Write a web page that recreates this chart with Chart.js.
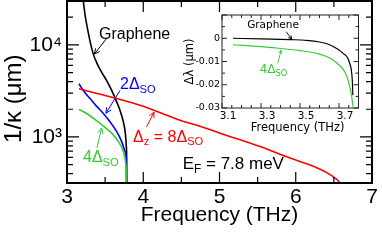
<!DOCTYPE html>
<html>
<head>
<meta charset="utf-8">
<script src="https://cdn.jsdelivr.net/npm/chart.js@4"></script>
<style>
    body { margin: 0; background: #fff; }
    #wrap { position: relative; width: 382px; height: 240px; }
    #mainChart { position: absolute; left: 0; top: 0; }
    #insetChart { position: absolute; left: 170px; top: 0; }
</style>
</head>
<body>
<div id="wrap">
    <canvas id="mainChart" width="382" height="240"></canvas>
    <canvas id="insetChart" width="200" height="140"></canvas>
</div>
<script>
// Main panel: 1/kappa (um) against frequency (THz)
const grapheneFreq = [3.19, 3.214, 3.236, 3.267, 3.302, 3.345, 3.398, 3.455, 3.52, 3.586, 3.643, 3.695, 3.739, 3.765, 3.778, 3.7825, 3.784];
const grapheneLen  = [36000, 29700, 21400, 15300, 11000, 7940, 6190, 5040, 4100, 3200, 2500, 1950, 1460, 1100, 787, 566, 280];

const so2Freq = [3.157, 3.214, 3.302, 3.389, 3.477, 3.564, 3.652, 3.717, 3.761, 3.778, 3.781];
const so2Len  = [3780, 3200, 2610, 2150, 1800, 1460, 1140, 890, 695, 521, 280];

const so4Freq = [3.157, 3.258, 3.367, 3.477, 3.586, 3.673, 3.739, 3.77, 3.778, 3.78];
const so4Len  = [1990, 1800, 1550, 1310, 1100, 890, 695, 521, 407, 280];

const dz8Freq = [3.157, 3.957, 4.482, 4.744, 5.007, 5.531, 5.925, 6.23, 6.449, 6.58, 6.62];
const dz8Len  = [3340, 2210, 1520, 1310, 1100, 787, 590, 480, 390, 316, 270];

// Inset: shift of wavelength (um)
const insetGrFreq  = [3.156, 3.30, 3.45, 3.534, 3.60, 3.652, 3.69, 3.72, 3.754, 3.768, 3.771];
const insetGrShift = [0, -0.0003, -0.0006, -0.0009, -0.0016, -0.0028, -0.0045, -0.0064, -0.0106, -0.0178, -0.0245];

const insetSo4Freq  = [3.156, 3.30, 3.40, 3.50, 3.60, 3.652, 3.70, 3.73, 3.75, 3.765, 3.772];
const insetSo4Shift = [-0.0028, -0.0036, -0.0044, -0.0053, -0.0068, -0.0085, -0.0115, -0.0145, -0.019, -0.025, -0.0295];

// tick labels
const mainXTicks = [3, 4, 5, 6, 7];
const mainYTicks = [1000, 10000];
const insetXTicks = [3.1, 3.3, 3.5, 3.7];
const insetYTicks = [-0.03, -0.02, -0.01, 0];

const MAIN_FONT = "'Liberation Sans', Arial, sans-serif";
const INSET_FONT = "'DejaVu Sans', sans-serif";
const GREEN = '#33cc33';

const pts = (xs, ys) => xs.map((x, i) => ({ x: x, y: ys[i] }));

// text made of runs, each run is [text, isSubscript]
function drawRuns(ctx, x, yc, runs, size, family, color) {
    ctx.fillStyle = color;
    ctx.textAlign = 'left';
    ctx.textBaseline = 'alphabetic';
    const base = yc + size * 0.36;
    let cx = x;
    runs.forEach(([t, sub]) => {
        const s = sub ? size * 0.7 : size;
        ctx.font = s + 'px ' + family;
        ctx.fillText(t, cx, sub ? base + size * 0.22 : base);
        cx += ctx.measureText(t).width;
    });
}

function arrow(ctx, x1, y1, x2, y2, color, w, hl) {
    ctx.strokeStyle = color;
    ctx.lineWidth = w;
    ctx.beginPath();
    ctx.moveTo(x1, y1);
    ctx.lineTo(x2, y2);
    const ang = Math.atan2(y2 - y1, x2 - x1);
    [-1, 1].forEach(s => {
        ctx.moveTo(x2, y2);
        ctx.lineTo(x2 - hl * Math.cos(ang + s * 0.45), y2 - hl * Math.sin(ang + s * 0.45));
    });
    ctx.stroke();
}

// annotation placement in data coordinates
const mainNotes = [
    { color: '#000', runs: [['Graphene', 0]], at: [3.42, 13450], tail: [3.525, 11900], head: [3.358, 7940] },
    { color: '#0000ff', runs: [['2Δ', 0], ['SO', 1]], at: [3.695, 3800], tail: [3.695, 3200], head: [3.511, 1810] },
    { color: '#ff0000', runs: [['Δ', 0], ['z', 1], [' = 8Δ', 0], ['SO', 1]], at: [3.866, 1025], tail: [4.043, 1280], head: [4.141, 1860] },
    { color: GREEN, runs: [['4Δ', 0], ['SO', 1]], at: [3.21, 610], tail: [3.393, 762], head: [3.455, 1250] },
    { color: '#000', runs: [['E', 0], ['F', 1], [' = 7.8 meV', 0]], at: [4.517, 521], size: 17 }
];

const insetNotes = [
    { color: '#000', runs: [['Graphene', 0]], at: [3.229, 0.0061], tail: [3.429, 0.0028], head: [3.458, -0.00045], size: 10.5 },
    { color: GREEN, runs: [['4Δ', 0], ['SO', 1]], at: [3.293, -0.0132], tail: [3.386, -0.0108], head: [3.403, -0.0051], size: 12 }
];

// keep the plot box where the reference has it
function fixWidth(w) {
    return s => { s.width = w; s.paddingTop = 0; s.paddingBottom = 0; };
}

const mainDecor = {
    id: 'mainDecor',
    afterDraw(chart) {
        const { ctx, chartArea: a, scales: { x, y } } = chart;
        ctx.save();
        ctx.strokeStyle = '#000';
        ctx.lineWidth = 1.2;
        ctx.beginPath();
        for (let v = 3; v <= 7.001; v += 0.5) {
            const px = x.getPixelForValue(v);
            const len = Math.abs(v - Math.round(v)) < 1e-6 ? 11 : 6;
            ctx.moveTo(px, a.bottom); ctx.lineTo(px, a.bottom - len);
            ctx.moveTo(px, a.top); ctx.lineTo(px, a.top + len);
        }
        [100, 1000, 10000].forEach(d => {
            for (let m = 1; m <= 9; m++) {
                const v = d * m;
                if (v <= y.min || v >= y.max) continue;
                const py = y.getPixelForValue(v);
                const len = m === 1 ? 12 : 6;
                ctx.moveTo(a.left, py); ctx.lineTo(a.left + len, py);
                ctx.moveTo(a.right, py); ctx.lineTo(a.right - len, py);
            }
        });
        ctx.stroke();
        ctx.lineWidth = 2;
        ctx.strokeRect(a.left, a.top, a.right - a.left, a.bottom - a.top);

        mainNotes.forEach(n => {
            if (n.tail) {
                arrow(ctx, x.getPixelForValue(n.tail[0]), y.getPixelForValue(n.tail[1]),
                    x.getPixelForValue(n.head[0]), y.getPixelForValue(n.head[1]), n.color, 1, 6);
            }
            drawRuns(ctx, x.getPixelForValue(n.at[0]), y.getPixelForValue(n.at[1]), n.runs, n.size || 16, MAIN_FONT, n.color);
        });
        ctx.restore();
    }
};

const insetDecor = {
    id: 'insetDecor',
    beforeDraw(chart) {
        const { ctx, chartArea: a } = chart;
        ctx.save();
        ctx.fillStyle = '#fff';
        ctx.fillRect(a.left, a.top, a.right - a.left, a.bottom - a.top);
        ctx.restore();
    },
    afterDraw(chart) {
        const { ctx, chartArea: a, scales: { x, y } } = chart;
        ctx.save();
        ctx.strokeStyle = '#222';
        ctx.lineWidth = 1;
        ctx.beginPath();
        for (let i = 0; i <= 14; i++) {
            const v = 3.1 + i * 0.05;
            const px = x.getPixelForValue(v);
            const len = i % 4 === 0 ? 5 : 3;
            ctx.moveTo(px, a.bottom); ctx.lineTo(px, a.bottom - len);
            ctx.moveTo(px, a.top); ctx.lineTo(px, a.top + len);
        }
        for (let i = 0; i <= 8; i++) {
            const v = -0.03 + i * 0.005;
            const py = y.getPixelForValue(v);
            const len = i % 2 === 0 ? 5 : 3;
            ctx.moveTo(a.left, py); ctx.lineTo(a.left + len, py);
            ctx.moveTo(a.right, py); ctx.lineTo(a.right - len, py);
        }
        ctx.stroke();
        ctx.strokeRect(a.left, a.top, a.right - a.left, a.bottom - a.top);

        insetNotes.forEach(n => {
            arrow(ctx, x.getPixelForValue(n.tail[0]), y.getPixelForValue(n.tail[1]),
                x.getPixelForValue(n.head[0]), y.getPixelForValue(n.head[1]), n.color, 0.9, 4);
            drawRuns(ctx, x.getPixelForValue(n.at[0]), y.getPixelForValue(n.at[1]), n.runs, n.size, INSET_FONT, n.color);
        });
        ctx.restore();
    }
};

new Chart(document.getElementById('mainChart'), {
    type: 'line',
    data: {
        datasets: [
            { data: pts(dz8Freq, dz8Len), borderColor: '#ff0000' },
            { data: pts(so4Freq, so4Len), borderColor: GREEN },
            { data: pts(so2Freq, so2Len), borderColor: '#0000ff' },
            { data: pts(grapheneFreq, grapheneLen), borderColor: '#000' }
        ]
    },
    options: {
        responsive: false,
        animation: false,
        devicePixelRatio: 1,
        layout: { padding: { top: 1, right: 10, left: 0, bottom: 0 } },
        elements: {
            point: { radius: 0 },
            line: { borderWidth: 1.6, cubicInterpolationMode: 'monotone', fill: false }
        },
        plugins: { legend: { display: false }, tooltip: { enabled: false } },
        scales: {
            x: {
                type: 'linear', min: 3, max: 7,
                grid: { display: false, drawTicks: false },
                border: { display: false },
                afterBuildTicks: s => { s.ticks = mainXTicks.map(v => ({ value: v })); },
                afterFit: s => { s.height = 57; },
                ticks: { font: { family: MAIN_FONT, size: 21 }, color: '#000', padding: 2, maxRotation: 0, autoSkip: false },
                title: { display: true, text: 'Frequency (THz)', font: { family: MAIN_FONT, size: 21 }, color: '#000', padding: { top: 0, bottom: 12 } }
            },
            y: {
                type: 'logarithmic', min: 316, max: 30000,
                grid: { display: false, drawTicks: false },
                border: { display: false },
                afterBuildTicks: s => { s.ticks = mainYTicks.map(v => ({ value: v })); },
                afterFit: fixWidth(67),
                ticks: {
                    font: { family: MAIN_FONT, size: 21 }, color: '#000', padding: 5, autoSkip: false,
                    callback: v => v === 1000 ? '10³' : (v === 10000 ? '10⁴' : '')
                },
                title: { display: true, text: '1/κ (μm)  ', font: { family: MAIN_FONT, size: 24 }, color: '#000', padding: { top: 0, bottom: 0 } }
            }
        }
    },
    plugins: [mainDecor]
});

new Chart(document.getElementById('insetChart'), {
    type: 'line',
    data: {
        datasets: [
            { data: pts(insetSo4Freq, insetSo4Shift), borderColor: GREEN },
            { data: pts(insetGrFreq, insetGrShift), borderColor: '#000' }
        ]
    },
    options: {
        responsive: false,
        animation: false,
        devicePixelRatio: 1,
        layout: { padding: { top: 15, right: 11.5, left: 0, bottom: 0 } },
        elements: {
            point: { radius: 0 },
            line: { borderWidth: 1.2, cubicInterpolationMode: 'monotone', fill: false }
        },
        plugins: { legend: { display: false }, tooltip: { enabled: false } },
        scales: {
            x: {
                type: 'linear', min: 3.1, max: 3.8,
                grid: { display: false, drawTicks: false },
                border: { display: false },
                afterBuildTicks: s => { s.ticks = insetXTicks.map(v => ({ value: v })); },
                afterFit: s => { s.height = 32; },
                ticks: { font: { family: INSET_FONT, size: 10.5 }, color: '#000', padding: 2, labelOffset: 6, maxRotation: 0, autoSkip: false },
                title: { display: true, text: '    Frequency (THz)', font: { family: INSET_FONT, size: 11.5 }, color: '#000', padding: { top: 0, bottom: 5 } }
            },
            y: {
                type: 'linear', min: -0.03, max: 0.01,
                grid: { display: false, drawTicks: false },
                border: { display: false },
                afterBuildTicks: s => { s.ticks = insetYTicks.map(v => ({ value: v })); },
                afterFit: fixWidth(52),
                ticks: {
                    font: { family: INSET_FONT, size: 9.5 }, color: '#000', padding: 2, autoSkip: false,
                    callback: v => Math.abs(v) < 1e-9 ? '0' : v.toFixed(2)
                },
                title: { display: true, text: 'Δλ (μm)', font: { family: INSET_FONT, size: 11.5 }, color: '#000', padding: { top: 13, bottom: 0 } }
            }
        }
    },
    plugins: [insetDecor]
});
</script>
</body>
</html>
